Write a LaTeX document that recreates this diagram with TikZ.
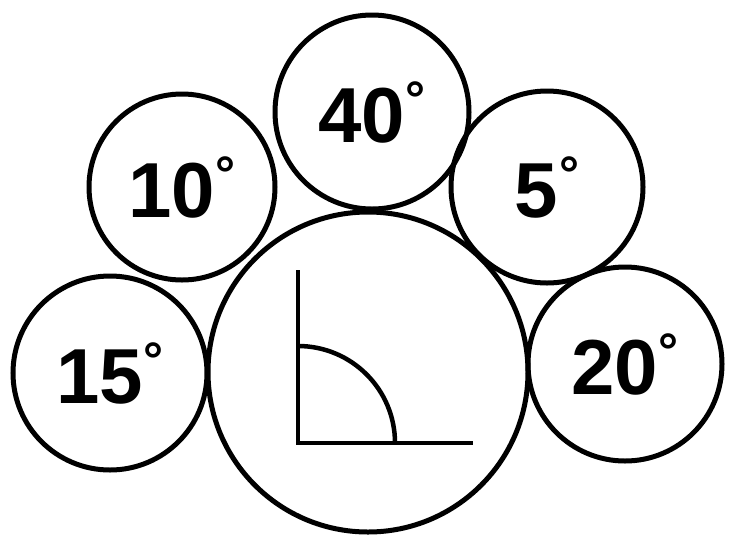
\documentclass[tikz,border=0pt]{standalone}
\usepackage{fontspec}
\setmainfont{Liberation Sans}
\newcommand{\dg}{\raisebox{26pt}{\fontsize{50}{50}\selectfont\bfseries\kern1pt °}}
\begin{document}
\begin{tikzpicture}[x=1pt,y=-1pt,
  ring/.style={draw, circle, line width=5pt, inner sep=0pt,
    font=\fontsize{78}{78}\selectfont\bfseries},
  axis/.style={line width=4.5pt}]
\useasboundingbox[fill=white] (0,0) rectangle (731,542);
\node[ring, minimum size=320pt] (big) at (368,372) {};
\node[ring, minimum size=194pt] (t) at (372,112) {40\dg};
\node[ring, minimum size=186pt] (l) at (182,187) {10\dg};
\node[ring, minimum size=192pt] (r) at (547,187) {5\dg};
\node[ring, minimum size=194pt] (bl) at (110,373) {15\dg};
\node[ring, minimum size=194pt] (br) at (625,364) {20\dg};
\coordinate (O) at (298,443);
\coordinate (Y) at (298,270);
\coordinate (X) at (473,443);
\draw[axis] (Y) -- (O) -- (X);
\draw[axis] (298,346) arc[start angle=90, end angle=0, radius=97pt];
\end{tikzpicture}
\end{document}
